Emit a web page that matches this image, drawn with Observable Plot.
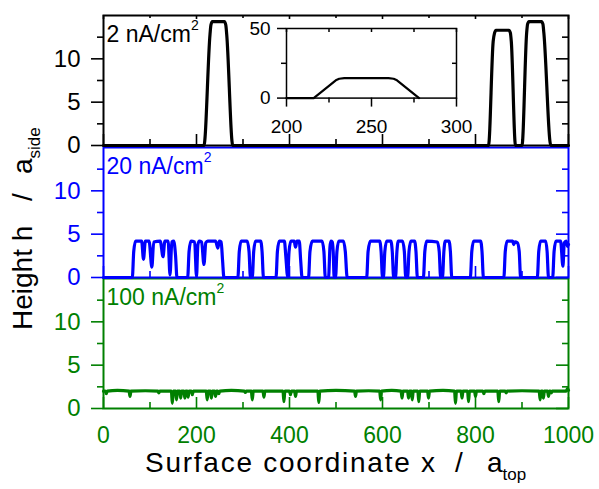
<!DOCTYPE html>
<html><head><meta charset="utf-8">
<script src="https://cdn.jsdelivr.net/npm/d3@7"></script>
<script src="https://cdn.jsdelivr.net/npm/@observablehq/plot@0.6"></script>
<style>
body{margin:0;background:#fff;font-family:"Liberation Sans",Arial,sans-serif}
#wrap{position:relative;width:599px;height:489px;overflow:hidden;background:#fff}
#wrap svg{position:absolute;left:0;overflow:visible}
</style></head>
<body><div id="wrap"></div>
<script>
// ---- data ----
const xMajor = [0, 200, 400, 600, 800, 1000];
const xMinor = [100, 300, 500, 700, 900];
const yMajor = [0, 5, 10];
const yMinor = [2.5, 7.5, 12.5];
const insetXMajor = [200, 250, 300];
const insetXMinor = [225, 275];
const insetYMajor = [0, 50];
const insetYMinor = [25];
const panelLabels = ["2 nA/cm²", "20 nA/cm²", "100 nA/cm²"];
const panelColors = ["#000000", "#0000ff", "#008000"];
const xTitleParts = ["Surface coordinate x", "/", "a", "top"];
const yTitleParts = ["Height h", "/", "a", "side"];

// 2 nA/cm2 (black)
const h2 = [[0,0],[200,0],[216,0],[229,12.8],[231,13.9],[234,14.3],[260,14.3],[263,13.9],[265,12.8],[278,0],
  [828,0],[838,12],[841,13],[844,13.3],[872,13.3],[875,13],[877,12],[886,0],
  [900,0],[910,13],[912,14],[915,14.3],[942,14.3],[945,14],[947,13],[962,0],[1000,0]];

// 20 nA/cm2 (blue)
const h20 = [[0,0],[62,0],[65,3],[69,4.2],[82,4.2],[86,2.1],[90,4.2],[98,4.2],[104,1.2],[108,4.1],[122,4.2],[128,2.4],[132,4.2],[139,4.2],[143,0.3],[147,4.1],[151,4.2],[155,2.5],[158,0],
  [181,0],[184,3],[188,4.2],[196,4.1],[200,0.1],[203,3.8],[206,4.2],[211,4.1],[216,1.5],[220,4],[224,4.2],[241,4.2],[246,3.4],[249,4.2],[253,4.1],[256,2],[259,0],
  [289,0],[292,3],[296,4.2],[309,4.2],[313,3],[316,0],
  [320,0],[323,3],[327,4.2],[338,4.2],[341,3],[344,0],
  [371,0],[374,3],[378,4.2],[389,4.2],[392,2.5],[396,0.1],[399,3],[403,4.2],[410,4.2],[413,3.5],[416,4.2],[421,4.2],[424,2],[427,0],
  [441,0],[444,3],[449,4.2],[470,4.2],[474,3],[477,0],
  [484,0],[487,3.5],[489,4.2],[492,4.1],[494,3],[496,0],
  [499,0],[502,3],[506,4.2],[516,4.2],[520,3],[524,0],
  [566,0],[569,3],[574,4.2],[594,4.2],[597,3],[600,0],
  [602,0],[605,3],[609,4.2],[618,4.2],[621,3],[624,0],
  [628,0],[631,3],[634,4.2],[643,4.2],[647,3],[650,0],
  [654,0],[657,3],[661,4.2],[669,4.2],[672,3],[675,0],
  [688,0],[691,3],[695,4.2],[718,4.1],[722,3],[725,0],
  [729,0],[732,3],[735,4.2],[743,4.2],[746,3],[749,0],
  [789,0],[792,3],[796,4.2],[811,4.2],[814,3],[817,0],
  [861,0],[864,3],[868,4.2],[880,4.2],[882,3.8],[885,4.1],[890,4.0],[894,3],[897,0],
  [933,0],[936,3],[940,4.2],[951,4.2],[954,3],[957,0],
  [966,0],[969,3],[973,4.2],[983,4.2],[988,1.3],[991,4],[995,4.2],[998,3.6],[1000,3.8]];

// 100 nA/cm2 (green)
const h100 = [[0,2.0],[4,2.0],[6,1.7],[8,2.0],[30,2.1],[55,2.0],[57,1.4],[59,2.0],[90,2.05],[117,2.0],[119,1.8],[121,2.0],
  [146,2.0],[148,0.6],[150,2.0],[155,2.0],[157,1.0],[159,2.0],[164,2.0],[166,1.2],[168,2.0],[173,2.0],[175,1.2],[177,2.0],
  [180,2.0],[182,1.3],[184,2.0],[189,2.0],[191,1.6],[193,2.0],[221,2.0],[223,1.0],[225,2.0],[230,2.0],[232,1.2],[234,2.0],
  [239,2.0],[241,1.4],[243,2.0],[246,2.0],[248,1.7],[250,2.0],[275,2.1],[303,2.0],[305,1.85],[307,2.0],[318,2.0],[320,1.0],[322,2.0],
  [343,2.0],[345,1.3],[347,2.0],[386,2.0],[388,0.8],[390,2.0],[400,2.0],[402,1.6],[404,2.0],[411,2.0],[413,1.4],[415,2.0],
  [461,2.0],[463,0.7],[465,2.0],[500,2.1],[540,2.0],[542,1.4],[544,2.0],[570,2.05],[594,2.0],[596,1.0],[598,2.0],[620,2.1],[640,2.0],[642,1.2],[644,2.0],
  [654,2.0],[656,1.2],[658,2.0],[662,2.0],[664,1.0],[666,2.0],[676,2.0],[678,0.8],[680,2.0],[697,2.0],[699,1.2],[701,2.0],
  [730,2.1],[755,2.0],[757,0.6],[759,2.0],[769,2.0],[771,1.2],[773,2.0],[783,2.0],[785,0.8],[787,2.0],[798,2.0],[800,1.4],[802,2.0],
  [816,2.0],[818,1.7],[820,2.0],[848,2.0],[850,0.8],[852,2.0],[864,2.0],[866,1.8],[868,2.0],[900,2.05],[937,2.0],[939,1.0],[941,2.0],
  [944,2.0],[946,1.2],[948,2.0],[955,2.0],[957,1.4],[959,2.0],[961,2.0],[963,1.8],[965,2.0],[995,2.0],[998,2.3],[1000,2.1]];

// ---- layout ----
const NS = "http://www.w3.org/2000/svg";
const W = 599, ML = 103, MR = 31, FH = 130, FW = W - ML - MR;
const FONT = "'Liberation Sans', Arial, sans-serif";
const wrap = document.getElementById("wrap");

// turn a trailing "²" into a small raised tspan
function superscript(svg) {
  svg.querySelectorAll("text").forEach(t => {
    if (t.childElementCount === 0 && t.textContent.endsWith("²")) {
      t.textContent = t.textContent.slice(0, -1);
      const ts = document.createElementNS(NS, "tspan");
      ts.setAttribute("font-size", "14");
      ts.setAttribute("dy", "-12");
      ts.textContent = "2";
      t.appendChild(ts);
    }
  });
}

function panel(data, color, label, frameTop, showX, topTicks) {
  const mt = 20, mb = showX ? 60 : 20;
  const marks = [
    Plot.axisY(yMajor, {anchor: "left", tickSize: 12, tickPadding: 11, color, strokeWidth: 1.6, fontSize: 24}),
    Plot.axisY(yMinor, {anchor: "left", tickSize: 6, tickFormat: () => "", color, strokeWidth: 1.6}),
    Plot.tickY(yMajor, {y: d => d, insetLeft: FW - 12, stroke: color, strokeWidth: 1.6}),
    Plot.tickY(yMinor, {y: d => d, insetLeft: FW - 6, stroke: color, strokeWidth: 1.6}),
    Plot.tickX(xMajor, {x: d => d, insetTop: FH - 11, stroke: color, strokeWidth: 1.6}),
    Plot.tickX(xMinor, {x: d => d, insetTop: FH - 6, stroke: color, strokeWidth: 1.6}),
    Plot.frame({stroke: color, strokeWidth: 2}),
    Plot.line(data, {x: d => d[0], y: d => d[1], stroke: color, strokeWidth: 3.2, curve: "monotone-x"}),
    Plot.text([label], {frameAnchor: "top-left", text: d => d, textAnchor: "start", lineAnchor: "top", dx: 3, dy: 10, fill: color, fontSize: 23})
  ];
  if (topTicks) {
    marks.push(Plot.tickX(xMajor, {x: d => d, insetBottom: FH - 4, stroke: color, strokeWidth: 1.6}));
    marks.push(Plot.tickX(xMinor, {x: d => d, insetBottom: FH - 3, stroke: color, strokeWidth: 1.6}));
  }
  if (showX) marks.push(Plot.axisX(xMajor, {anchor: "bottom", tickSize: 0, tickPadding: 18, color, fontSize: 23, tickFormat: d => String(d)}));
  const svg = Plot.plot({
    width: W, height: FH + mt + mb,
    marginLeft: ML, marginRight: MR, marginTop: mt, marginBottom: mb,
    style: {background: "transparent", overflow: "visible", fontFamily: FONT},
    x: {domain: [0, 1000], axis: null}, y: {domain: [0, 15], axis: null},
    marks
  });
  superscript(svg);
  svg.style.top = (frameTop - mt) + "px";
  wrap.appendChild(svg);
}

// bottom panel first so the upper panels' borders sit on top
panel(h100, panelColors[2], panelLabels[2], 277.5, true, false);
panel(h20, panelColors[1], panelLabels[1], 147, false, false);
panel(h2, panelColors[0], panelLabels[0], 15, false, true);

// inset
{
  const ml = 50, mr = 10, mt = 10, mb = 40, iw = 170, ih = 69.6;
  const svg = Plot.plot({
    width: iw + ml + mr, height: ih + mt + mb,
    marginLeft: ml, marginRight: mr, marginTop: mt, marginBottom: mb,
    style: {background: "transparent", overflow: "visible", fontFamily: FONT},
    x: {domain: [200, 300], axis: null}, y: {domain: [0, 50], axis: null},
    marks: [
      Plot.axisX(insetXMajor, {anchor: "bottom", tickSize: 9, tickPadding: 12, fontSize: 19, strokeWidth: 1.5}),
      Plot.axisX(insetXMinor, {anchor: "bottom", tickSize: 5, tickFormat: () => "", strokeWidth: 1.5}),
      Plot.axisY(insetYMajor, {anchor: "left", tickSize: 9, tickPadding: 7, fontSize: 19, strokeWidth: 1.5}),
      Plot.axisY(insetYMinor, {anchor: "left", tickSize: 5, tickFormat: () => "", strokeWidth: 1.5}),
      Plot.tickX(insetXMajor.concat(insetXMinor), {x: d => d, insetBottom: ih - 4, stroke: "black", strokeWidth: 1.5}),
      Plot.tickY(insetYMinor, {y: d => d, insetLeft: iw - 4, stroke: "black", strokeWidth: 1.5}),
      Plot.frame({stroke: "black", strokeWidth: 1.5}),
      Plot.line(h2.filter(d => d[0] >= 200 && d[0] <= 300), {x: d => d[0], y: d => d[1], stroke: "black", strokeWidth: 2.2})
    ]
  });
  svg.style.left = (286 - ml) + "px";
  svg.style.top = (27.7 - mt) + "px";
  wrap.appendChild(svg);
}

// axis titles
{
  const svg = document.createElementNS(NS, "svg");
  svg.setAttribute("width", W); svg.setAttribute("height", 489);
  svg.style.top = "0px";
  const [xa, xb, xc, xs] = xTitleParts;
  const [ya, yb, yc, ys] = yTitleParts;
  svg.innerHTML =
    `<g font-family="${FONT}" fill="black">
      <text x="145" y="472" font-size="28" textLength="290" lengthAdjust="spacing">${xa}</text>
      <text x="455" y="472" font-size="28">${xb}</text>
      <text x="487" y="472" font-size="28">${xc}<tspan font-size="17" dy="8">${xs}</tspan></text>
      <g transform="translate(32,0) rotate(-90)">
        <text x="-330" y="0" font-size="28">${ya}</text>
        <text x="-201" y="0" font-size="28">${yb}</text>
        <text x="-174" y="0" font-size="28">${yc}<tspan font-size="17" dy="8">${ys}</tspan></text>
      </g>
    </g>`;
  wrap.appendChild(svg);
}
</script>
</body></html>
